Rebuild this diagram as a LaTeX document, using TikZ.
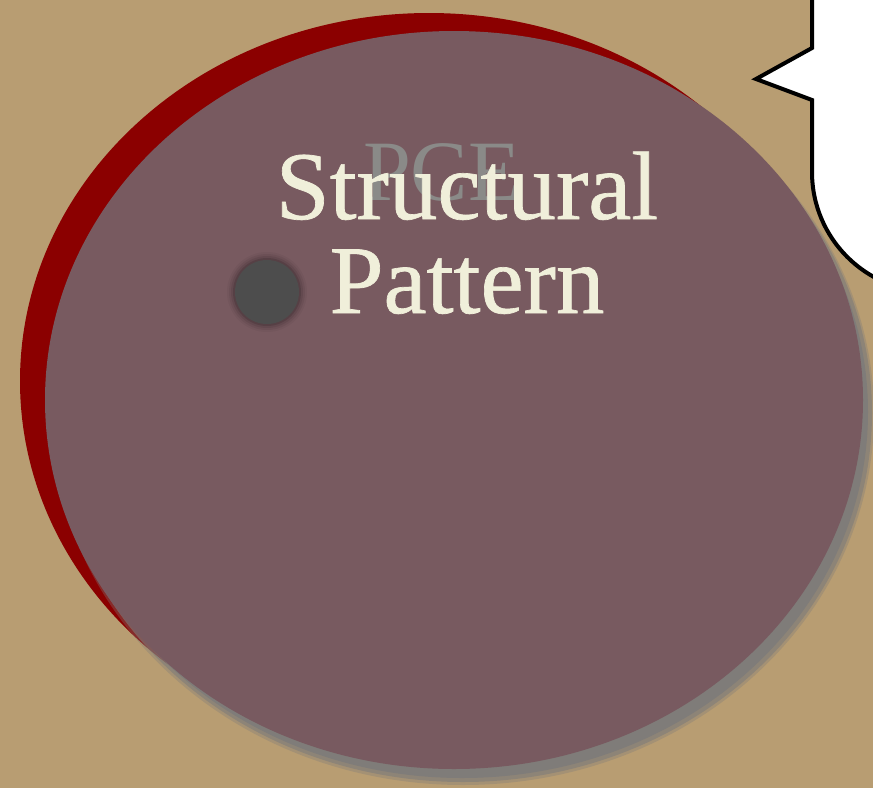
\documentclass[tikz,border=0pt]{standalone}
\usepackage{fontspec}
\setmainfont{Liberation Serif}
\newfontfamily\titlefont[FakeBold=0.7]{Liberation Serif}
\definecolor{bgtan}{HTML}{B89D72}
\definecolor{rimred}{HTML}{8B0000}
\definecolor{shadegray}{HTML}{7F7C79}
\definecolor{mauve}{HTML}{785A60}
\definecolor{cream}{HTML}{F0EFDA}
\definecolor{pcegray}{HTML}{8A8A88}
\definecolor{dotgray}{HTML}{4D4D4D}
\tikzset{
  bubble/.style={draw=black, line width=4pt, fill=white, line join=miter},
  titletext/.style={text=cream, font=\titlefont\fontsize{97}{97}\selectfont, align=center, inner sep=0pt},
  ghosttext/.style={text=pcegray, font=\fontsize{86}{86}\selectfont, inner sep=0pt}
}
\begin{document}
\begin{tikzpicture}[x=1pt,y=-1pt]
\useasboundingbox (0,0) rectangle (873,788);
\clip (0,0) rectangle (873,788);
\fill[bgtan] (0,0) rectangle (873,788);
% red rim ellipse
\fill[rimred] (429,381) ellipse [x radius=409pt, y radius=368pt];
% gray shadow ellipse (soft edge)
\fill[shadegray,opacity=0.35] (463,414) ellipse [x radius=411pt, y radius=371pt];
\fill[shadegray,opacity=0.6] (463,413) ellipse [x radius=409pt, y radius=369pt];
\fill[shadegray] (462,412) ellipse [x radius=406pt, y radius=366pt];
% main mauve ellipse
\fill[mauve] (454,400) ellipse [x radius=409pt, y radius=369pt];
% speech bubble
\fill[black,opacity=0.12] (815,-10) -- (815,51) -- (760,82) -- (815,103) [rounded corners=120pt] -- (815,295) -- (1000,295) [sharp corners] -- (1000,-10) -- cycle;
\draw[bubble] (812,-10) -- (812,48) -- (756,79) -- (812,100) [rounded corners=120pt] -- (812,292) -- (1000,292) [sharp corners] -- (1000,-10) -- cycle;
% ghost text
\node[ghosttext, anchor=base] (pce) at (442,200) {PCE};
% dot with soft halo
\foreach \r/\o in {40/0.04,38/0.06,36/0.08,34/0.12}{
  \fill[black,opacity=\o] (267,292) circle (\r pt);
}
\fill[dotgray] (267,292) circle (32pt);
\coordinate (dot) at (267,292);
% title
\node[titletext, anchor=base] (t1) at (467,219) {Structural};
\node[titletext, anchor=base] (t2) at (467,313) {Pattern};
\end{tikzpicture}
\end{document}
